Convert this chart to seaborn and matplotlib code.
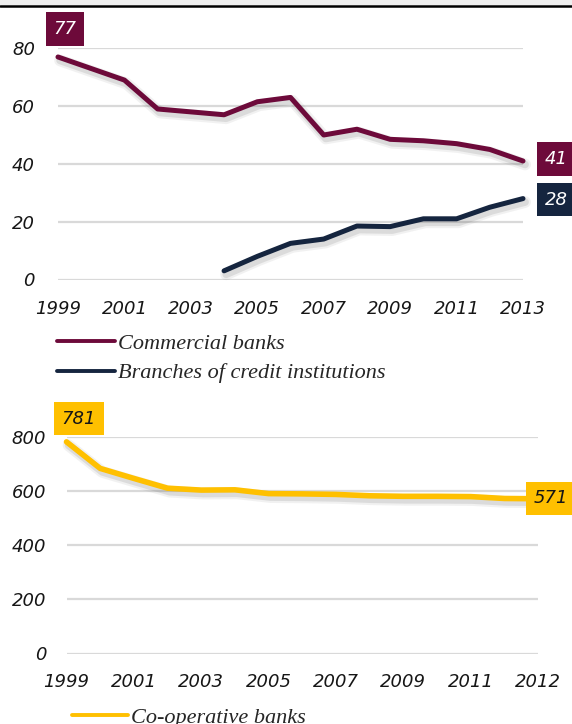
import matplotlib
matplotlib.use("Agg")
import matplotlib.pyplot as plt
import matplotlib.patheffects as pe
from matplotlib.patches import Rectangle
from matplotlib.lines import Line2D
import seaborn as sns
import pandas as pd

# ---- data ----
years = list(range(1999, 2014))
commercial = [77, 73, 69, 59, 58, 57, 61.5, 63, 50, 52, 48.5, 48, 47, 45, 41]
branch_years = list(range(2004, 2014))
branches = [3, 8, 12.5, 14, 18.5, 18.3, 21, 21, 25, 28]
coop_years = list(range(1999, 2014))
coop = [781, 683, 646, 610, 603, 604, 590, 589, 587, 582, 580, 580, 579, 572, 571]

top_tick_pos = [1999, 2001, 2003, 2005, 2007, 2009, 2011, 2013]
top_tick_labels = ["1999", "2001", "2003", "2005", "2007", "2009", "2011", "2013"]
bottom_tick_pos = [1999, 2001, 2003, 2005, 2007, 2009, 2011, 2013]
bottom_tick_labels = ["1999", "2001", "2003", "2005", "2007", "2009", "2011", "2012"]

top_names = ["Commercial banks", "Branches of credit institutions"]
bottom_name = "Co-operative banks"

MAROON = "#6D0A3A"
NAVY = "#15253F"
GOLD = "#FFC000"
GRID = "#d9d9d9"
TEXT = "#161616"

sns.set_theme(style="white")
plt.rcParams["font.family"] = ["DejaVu Sans"]

W, H = 572, 724
fig = plt.figure(figsize=(W / 100, H / 100), dpi=100)


def px_axes(x0, x1, y_top, y_bot):
    return fig.add_axes([x0 / W, 1 - y_bot / H, (x1 - x0) / W, (y_bot - y_top) / H])


# header strip
fig.patches.append(Rectangle((0, 1 - 5 / H), 1, 5 / H, transform=fig.transFigure,
                             fc="#efefef", ec="none"))
fig.lines.append(Line2D([0, 1], [1 - 6 / H, 1 - 6 / H], transform=fig.transFigure,
                        color="black", lw=1.8))

shadow = [pe.SimpleLineShadow(offset=(1.5, -2.5), shadow_color="0.35", alpha=0.08, linewidth=8.5),
          pe.SimpleLineShadow(offset=(1.5, -2.5), shadow_color="0.35", alpha=0.14, linewidth=5.5),
          pe.Normal()]

tick_font = dict(fontsize=13, fontstyle="italic", color=TEXT)
legend_prop = {"family": "Liberation Serif", "style": "italic", "size": 16}


def style_axes(ax, ymax, ystep, xpos, xlabels, xpad, ypad):
    ax.set_xlim(1999, 2013)
    ax.set_ylim(0, ymax)
    ax.set_yticks(range(0, ymax + 1, ystep))
    ax.set_xticks(xpos)
    ax.set_xticklabels(xlabels, **tick_font)
    ax.set_yticklabels([str(v) for v in range(0, ymax + 1, ystep)], **tick_font)
    ax.tick_params(axis="both", length=0)
    ax.tick_params(axis="x", pad=xpad)
    ax.tick_params(axis="y", pad=ypad)
    ax.set_xlabel("")
    ax.set_ylabel("")
    ax.grid(False)
    ax.yaxis.grid(True, color=GRID, lw=1.6)
    ax.set_axisbelow(True)
    for s in ax.spines.values():
        s.set_visible(False)


def value_box(ax, x, y, text, dx, dy, fc, tc):
    ax.annotate(text, xy=(x, y), xytext=(dx, dy), textcoords="offset pixels",
                ha="center", va="center", color=tc, fontsize=13, fontstyle="italic",
                bbox=dict(boxstyle="square,pad=0.42", fc=fc, ec="none"),
                annotation_clip=False, zorder=5)


# ---- top chart: commercial banks and branches ----
ax1 = px_axes(58, 523, 48.3, 279.5)
df_top = pd.DataFrame({
    "year": years + branch_years,
    "value": commercial + branches,
    "series": [top_names[0]] * len(years) + [top_names[1]] * len(branch_years),
})
sns.lineplot(data=df_top, x="year", y="value", hue="series", hue_order=top_names,
             palette=[MAROON, NAVY], linewidth=3.6, ax=ax1)
for ln in ax1.lines:
    ln.set_path_effects(shadow)
    ln.set_clip_on(False)
    ln.set_solid_capstyle("round")
style_axes(ax1, 80, 20, top_tick_pos, top_tick_labels, xpad=14.5, ypad=16.5)
sns.move_legend(ax1, loc="upper left", bbox_to_anchor=(57 / W, 1 - 333 / H),
                bbox_transform=fig.transFigure, frameon=False, title=None,
                prop=legend_prop, handlelength=2.6, handletextpad=0.15,
                labelspacing=0.42, borderpad=0, borderaxespad=0)
for h in ax1.get_legend().get_lines():
    h.set_linewidth(2.8)

value_box(ax1, years[0], commercial[0], f"{commercial[0]:g}", 7, 28, MAROON, "white")
value_box(ax1, years[-1], commercial[-1], f"{commercial[-1]:g}", 33, 2, MAROON, "white")
value_box(ax1, branch_years[-1], branches[-1], f"{branches[-1]:g}", 33, -1, NAVY, "white")

# ---- bottom chart: co-operative banks ----
ax2 = px_axes(66.5, 538, 436.7, 653.5)
df_bot = pd.DataFrame({"year": coop_years, "value": coop, "series": bottom_name})
sns.lineplot(data=df_bot, x="year", y="value", hue="series", palette=[GOLD],
             linewidth=4.0, ax=ax2)
for ln in ax2.lines:
    ln.set_path_effects(shadow)
    ln.set_clip_on(False)
    ln.set_solid_capstyle("round")
style_axes(ax2, 800, 200, bottom_tick_pos, bottom_tick_labels, xpad=14, ypad=14.5)
sns.move_legend(ax2, loc="upper left", bbox_to_anchor=(72 / W, 1 - 707 / H),
                bbox_transform=fig.transFigure, frameon=False, title=None,
                prop=legend_prop, handlelength=2.5, handletextpad=0.15,
                borderpad=0, borderaxespad=0)
for h in ax2.get_legend().get_lines():
    h.set_linewidth(2.8)

value_box(ax2, coop_years[0], coop[0], f"{coop[0]:g}", 12.5, 23, GOLD, TEXT)
value_box(ax2, coop_years[-1], coop[-1], f"{coop[-1]:g}", 13, 0.5, GOLD, TEXT)

fig.savefig("out.png", dpi=100)
